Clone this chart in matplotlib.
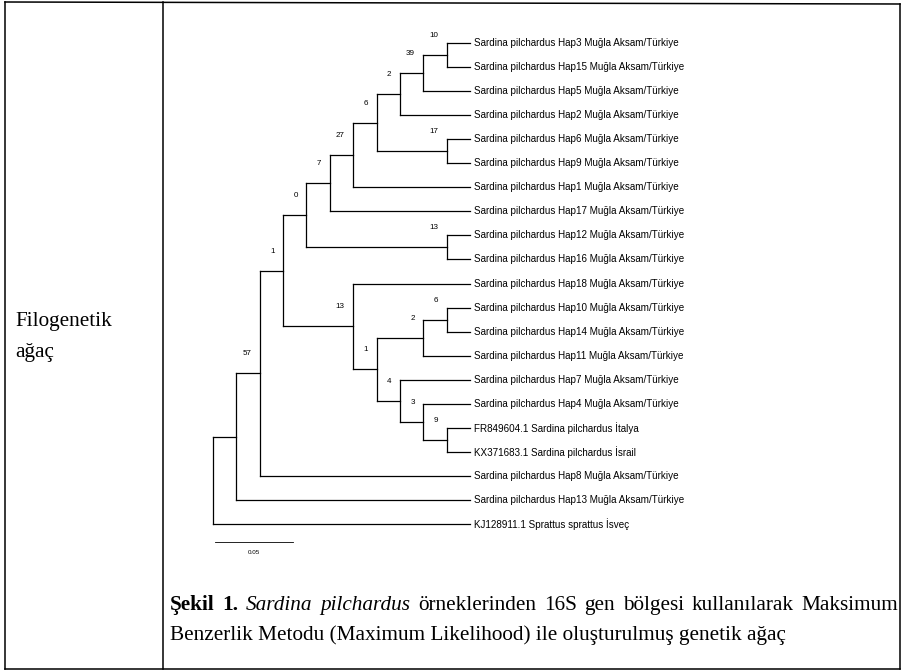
import matplotlib.pyplot as plt
from matplotlib.lines import Line2D

plt.rcParams['font.family'] = ['Liberation Sans', 'DejaVu Sans']

W, H = 908, 672

# leaves, top to bottom
leaf_keys = ['Hap3', 'Hap15', 'Hap5', 'Hap2', 'Hap6', 'Hap9', 'Hap1', 'Hap17',
             'Hap12', 'Hap16', 'Hap18', 'Hap10', 'Hap14', 'Hap11', 'Hap7',
             'Hap4', 'FR', 'KX', 'Hap8', 'Hap13', 'KJ']
leaf_labels = ['Sardina pilchardus Hap3 Muğla Aksam/Türkiye',
               'Sardina pilchardus Hap15 Muğla Aksam/Türkiye',
               'Sardina pilchardus Hap5 Muğla Aksam/Türkiye',
               'Sardina pilchardus Hap2 Muğla Aksam/Türkiye',
               'Sardina pilchardus Hap6 Muğla Aksam/Türkiye',
               'Sardina pilchardus Hap9 Muğla Aksam/Türkiye',
               'Sardina pilchardus Hap1 Muğla Aksam/Türkiye',
               'Sardina pilchardus Hap17 Muğla Aksam/Türkiye',
               'Sardina pilchardus Hap12 Muğla Aksam/Türkiye',
               'Sardina pilchardus Hap16 Muğla Aksam/Türkiye',
               'Sardina pilchardus Hap18 Muğla Aksam/Türkiye',
               'Sardina pilchardus Hap10 Muğla Aksam/Türkiye',
               'Sardina pilchardus Hap14 Muğla Aksam/Türkiye',
               'Sardina pilchardus Hap11 Muğla Aksam/Türkiye',
               'Sardina pilchardus Hap7 Muğla Aksam/Türkiye',
               'Sardina pilchardus Hap4 Muğla Aksam/Türkiye',
               'FR849604.1 Sardina pilchardus İtalya',
               'KX371683.1 Sardina pilchardus İsrail',
               'Sardina pilchardus Hap8 Muğla Aksam/Türkiye',
               'Sardina pilchardus Hap13 Muğla Aksam/Türkiye',
               'KJ128911.1 Sprattus sprattus İsveç']
tip_depth = 0.165

# internal nodes (children must be listed before parents)
clade_names = ['A', 'B', 'C', 'D', 'E', 'F', 'G', 'H', 'I', 'J', 'K', 'L',
               'M', 'N', 'O', 'P', 'Q', 'R', 'S', 'T']
clade_children = [('Hap3', 'Hap15'), ('A', 'Hap5'), ('B', 'Hap2'),
                  ('Hap6', 'Hap9'), ('C', 'D'), ('E', 'Hap1'), ('F', 'Hap17'),
                  ('Hap12', 'Hap16'), ('G', 'H'), ('Hap10', 'Hap14'),
                  ('J', 'Hap11'), ('FR', 'KX'), ('Hap4', 'L'), ('Hap7', 'M'),
                  ('K', 'N'), ('Hap18', 'O'), ('I', 'P'), ('Q', 'Hap8'),
                  ('R', 'Hap13'), ('S', 'KJ')]
clade_depths = [0.150, 0.135, 0.120, 0.150, 0.105, 0.090, 0.075, 0.150,
                0.060, 0.150, 0.135, 0.150, 0.135, 0.120, 0.105, 0.090,
                0.045, 0.030, 0.015, 0.000]
clade_support = ['10', '39', '2', '17', '6', '27', '7', '13', '0', '6', '2',
                 '9', '3', '4', '1', '13', '1', '57', '', '']

scale_len = 0.05
scale_label = '0.05'

fig = plt.figure(figsize=(W / 100, H / 100), dpi=100)

# tree panel: root at px 213, tips at px 470, rows 24.05 px apart from px 43
px_per_unit = (470 - 213) / tip_depth
ax = fig.add_axes([165 / W, 1 - 590 / H, (900 - 165) / W, (590 - 12) / H])
ax.set_xlim((165 - 213) / px_per_unit, (900 - 213) / px_per_unit)
ax.set_ylim((590 - 43) / 24.05, (12 - 43) / 24.05)
ax.axis('off')

pos = {}
for i, k in enumerate(leaf_keys):
    pos[k] = (tip_depth, i)

lw = 0.9
for name, (c1, c2), d, sup in zip(clade_names, clade_children, clade_depths,
                                  clade_support):
    y1 = pos[c1][1]
    y2 = pos[c2][1]
    ax.plot([d, d], [y1, y2], color='black', lw=lw)
    for c in (c1, c2):
        ax.plot([d, pos[c][0]], [pos[c][1], pos[c][1]], color='black', lw=lw)
    pos[name] = (d, (y1 + y2) / 2)
    if sup:
        ax.annotate(sup, (d, (y1 + y2) / 2), xytext=(-6, 14),
                    textcoords='offset points', ha='right', va='center',
                    fontsize=5.8)

for i, lab in enumerate(leaf_labels):
    ax.annotate(lab, (tip_depth, i), xytext=(3, 0), textcoords='offset points',
                ha='left', va='center', fontsize=7.1)

# scale bar
sb_y = len(leaf_keys) - 1 + 0.75
ax.plot([0.0013, 0.0013 + scale_len], [sb_y, sb_y], color='black', lw=0.6)
ax.text(0.0013 + scale_len / 2, sb_y + 0.45, scale_label, ha='center',
        va='center', fontsize=4.5)


def fx(x):
    return x / W


def fy(y):
    return 1 - y / H


# table frame
frame = [((5, 2), (900, 4)), ((900, 4), (900, 669)), ((900, 669), (5, 669)),
         ((5, 669), (5, 2)), ((163, 2), (163, 669))]
for (x0, y0), (x1, y1) in frame:
    fig.add_artist(Line2D([fx(x0), fx(x1)], [fy(y0), fy(y1)], color='black',
                          lw=1.1, transform=fig.transFigure))

serif = ['Liberation Serif', 'DejaVu Serif']
fs = 15.3
fig.text(fx(15), fy(326), 'Filogenetik', family=serif, fontsize=fs,
         va='baseline')
fig.text(fx(15), fy(357), 'ağaç', family=serif, fontsize=fs, va='baseline')

# caption: line 1 justified between px 170 and 898
line1 = [('Şekil', 'bold', 'normal'), ('1.', 'bold', 'normal'),
         ('Sardina', 'normal', 'italic'), ('pilchardus', 'normal', 'italic'),
         ('örneklerinden', 'normal', 'normal'), ('16S', 'normal', 'normal'),
         ('gen', 'normal', 'normal'), ('bölgesi', 'normal', 'normal'),
         ('kullanılarak', 'normal', 'normal'), ('Maksimum', 'normal', 'normal')]
line2 = 'Benzerlik Metodu (Maximum Likelihood) ile oluşturulmuş genetik ağaç'

renderer = fig.canvas.get_renderer()
words = []
for w, wt, st in line1:
    t = fig.text(0, fy(610), w, family=serif, fontsize=fs, weight=wt,
                 style=st, va='baseline')
    words.append((t, t.get_window_extent(renderer).width))
total = sum(wd for _, wd in words)
gap = (898 - 170 - total) / (len(words) - 1)
x = 170
for t, wd in words:
    t.set_x(fx(x))
    x += wd + gap

fig.text(fx(170), fy(640), line2, family=serif, fontsize=fs, va='baseline')

fig.savefig('out.png', dpi=100)
